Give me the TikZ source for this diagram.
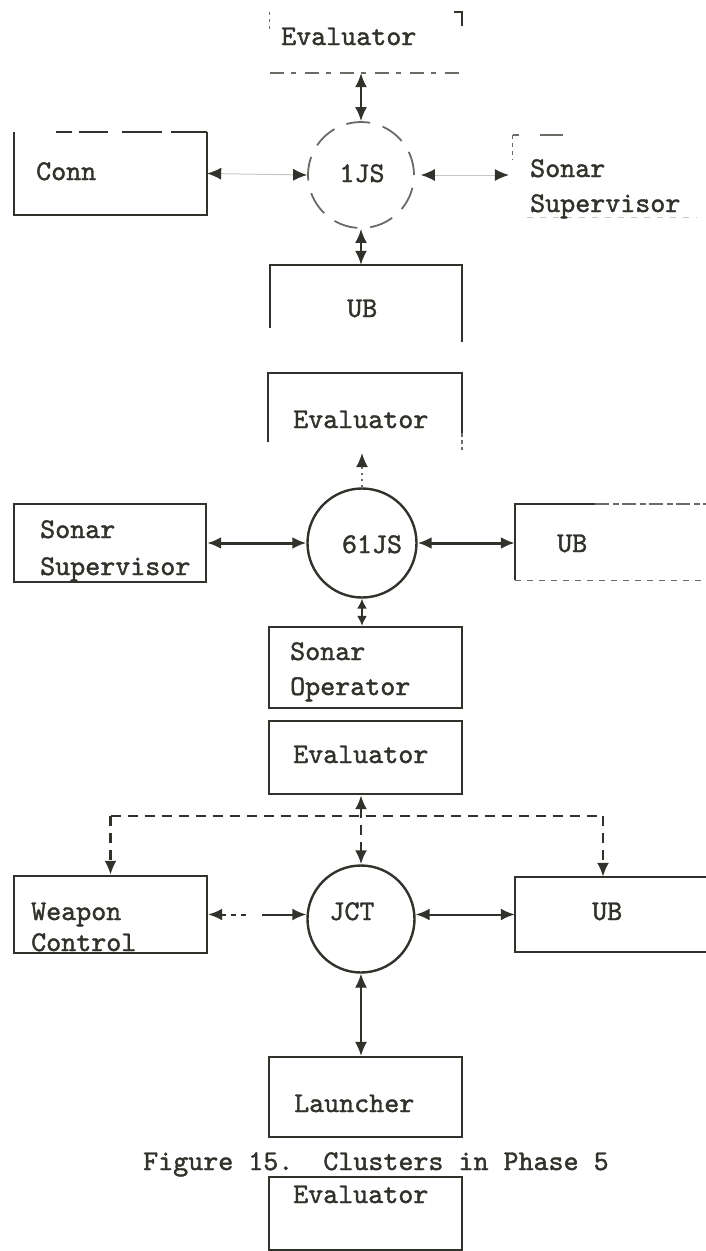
\documentclass[tikz,border=0pt]{standalone}
\usepackage{fontspec}
\setmonofont{lmmono10-regular.otf}[FakeBold=1.4]
\usetikzlibrary{arrows.meta}
\definecolor{ink}{RGB}{48,50,44}
\definecolor{mid}{RGB}{105,107,100}
\definecolor{pale}{RGB}{200,200,195}
\tikzset{
  >={Latex[length=14pt,width=12pt,color=ink]},
  lbl/.style={font=\ttfamily\fontsize{28.6}{35}\selectfont, text=ink, inner sep=0pt, anchor=base west},
  clbl/.style={lbl, anchor=base},
  boxframe/.style={rectangle, draw=ink, line width=2.4pt, inner sep=0pt},
  ghost/.style={rectangle, inner sep=0pt},
  hubnode/.style={circle, draw=ink, line width=2.4pt, inner sep=0pt},
  stroke/.style={draw=ink, line width=2.4pt},
  faintstroke/.style={draw=mid, line width=1.6pt},
  link/.style={draw=ink, line width=2pt, <->},
  shortlink/.style={draw=ink, line width=1.6pt, {Latex[length=10pt,width=10pt,color=ink]}-{Latex[length=10pt,width=10pt,color=ink]}},
  ghostlink/.style={draw=pale, line width=1pt, <->},
  dashline/.style={draw=ink, line width=2.4pt, dash pattern=on 10pt off 7pt},
}
\begin{document}
\begin{tikzpicture}[x=1pt,y=-1pt]
\useasboundingbox[fill=white] (0,0) rectangle (706,1251);

% ---------- top cluster ----------
\node[ghost, minimum width=192pt, minimum height=61pt] (ev1) at (366,42.5) {};
\node[ghost, minimum width=193pt, minimum height=83pt] (conn) at (110.5,173.5) {};
\node[hubnode, minimum size=106pt, draw=mid, line width=1.8pt, dash pattern=on 24pt off 13pt] (js1) at (361,175) {};
\node[ghost, minimum width=232pt, minimum height=82pt] (ss1) at (629,176) {};
\node[ghost, minimum width=192pt, minimum height=77pt] (ub1) at (366,303.5) {};

% ---------- middle cluster ----------
\node[ghost, minimum width=194pt, minimum height=80pt] (ev2) at (365,413) {};
\node[hubnode, minimum size=109pt] (js61) at (362,543) {};
\node[boxframe, minimum width=192pt, minimum height=78pt] (ss2) at (110,543) {};
\node[ghost, minimum width=230pt, minimum height=76pt] (ub2) at (630,542) {};
\node[boxframe, minimum width=193pt, minimum height=81pt] (so) at (365.5,667.5) {};

% ---------- bottom cluster ----------
\node[boxframe, minimum width=193pt, minimum height=73pt] (ev3) at (365.5,757.5) {};
\node[boxframe, minimum width=193pt, minimum height=77pt] (wc) at (110.5,914.5) {};
\node[hubnode, minimum size=107pt] (jct) at (361,919) {};
\node[ghost, minimum width=230pt, minimum height=75pt] (ub3) at (630,914.5) {};
\node[boxframe, minimum width=193pt, minimum height=80pt] (la) at (365.5,1097) {};
\node[boxframe, minimum width=193pt, minimum height=73pt] (ev4) at (365.5,1213.5) {};

% ---------- partial outlines ----------
% Evaluator (top)
\draw[faintstroke, line width=1.2pt, dash pattern=on 3pt off 4pt] (ev1.north west) -- ++(0,18);
\draw[stroke] ([xshift=-8pt]ev1.north east) -- (ev1.north east) -- ++(0,14);
\draw[faintstroke, dash pattern=on 14pt off 7pt on 5pt off 9pt] (ev1.south west) -- (ev1.south east);
% Conn
\draw[stroke] (conn.north east) -- (conn.south east) -- (conn.south west) -- (conn.north west);
\draw[stroke, dash pattern=on 16pt off 7pt on 29pt off 14pt on 40pt off 9pt on 40pt] ([xshift=42pt]conn.north west) -- (conn.north east);
% Sonar Supervisor (top right)
\draw[faintstroke, line width=1.3pt, dash pattern=on 4pt off 4pt] (ss1.north west) -- ++(0,25);
\draw[faintstroke] (ss1.north west) -- ++(6,0);
\draw[faintstroke] ([xshift=27pt]ss1.north west) -- ++(23,0);
\draw[draw=pale, line width=1.3pt, dash pattern=on 6pt off 7pt] ([xshift=14pt]ss1.south west) -- ++(170,0);
% UB (top)
\draw[stroke] ([yshift=-63pt]ub1.north west) -- (ub1.north west) -- (ub1.north east) -- (ub1.south east);
% Evaluator (middle)
\draw[stroke] ([yshift=-69pt]ev2.north west) -- (ev2.north west) -- (ev2.north east) -- ([yshift=-60pt]ev2.north east);
\draw[faintstroke, dash pattern=on 4pt off 3pt] ([yshift=-60pt]ev2.north east) -- ([yshift=-77pt]ev2.north east);
% UB (middle)
\draw[stroke] (ub2.south west) -- (ub2.north west) -- ++(80,0);
\draw[stroke, draw=mid, dash pattern=on 14pt off 4pt on 6pt off 3pt] ([xshift=80pt]ub2.north west) -- (ub2.north east);
\draw[draw=mid, line width=1.3pt, dash pattern=on 6pt off 6pt] (ub2.south west) -- (ub2.south east);
% UB (bottom)
\draw[stroke] (ub3.north east) -- (ub3.north west) -- (ub3.south west) -- (ub3.south east);

% ---------- texts ----------
\node[lbl] (tev1) at (281,45) {Evaluator};
\node[lbl] (tconn) at (36,180) {Conn};
\node[clbl] (tjs1) at (362,182) {1JS};
\node[lbl] (tss1a) at (530,177) {Sonar};
\node[lbl] (tss1b) at (530,212) {Supervisor};
\node[lbl] (tub1) at (347,317) {UB};
\node[lbl] (tev2) at (293,428) {Evaluator};
\node[clbl] (tjs61) at (372,553) {61JS};
\node[lbl] (tss2a) at (40,538) {Sonar};
\node[lbl] (tss2b) at (40,575) {Supervisor};
\node[lbl] (tub2) at (557,552) {UB};
\node[lbl] (tso1) at (290,660) {Sonar};
\node[lbl] (tso2) at (290,695) {Operator};
\node[lbl] (tev3) at (293,763) {Evaluator};
\node[lbl] (twc1) at (31,920) {Weapon};
\node[lbl] (twc2) at (31,951) {Control};
\node[clbl] (tjct) at (352,920) {JCT};
\node[lbl] (tub3) at (592,920) {UB};
\node[lbl] (tla) at (294,1112) {Launcher};
\node[lbl] (cap) at (143,1170) {Figure 15.\ \ Clusters in Phase 5};
\node[lbl] (tev4) at (293,1203) {Evaluator};

% ---------- connectors ----------
% top cluster
\draw[link] (js1.north |- ev1.south) -- (js1.north);
\draw[ghostlink] (conn.east) -- (js1.west);
\draw[ghostlink, shorten <=6pt, shorten >=4pt] (js1.east) -- (js1.east -| ss1.west);
\draw[link] (js1.south) -- (js1.south |- ub1.north);
% middle cluster
\draw[draw=mid, line width=1.2pt, dash pattern=on 2pt off 4pt, ->] (js61.north) -- (js61.north |- ev2.south);
\draw[link, line width=3pt] (ss2.east) -- (js61.west);
\draw[link, line width=3pt] (js61.east) -- (js61.east -| ub2.west);
\draw[shortlink] (js61.south) -- (js61.south |- so.north);
% bottom cluster
\coordinate (fork) at (361,816);
\coordinate (forkL) at (wc.north |- fork);
\coordinate (forkR) at (603,816);
\draw[dashline, <->] (jct.north |- ev3.south) -- (jct.north);
\draw[dashline] (forkL) -- (forkR);
\draw[dashline, ->] (forkL) -- (wc.north);
\draw[dashline, ->] (forkR) -- (forkR |- ub3.north);
\draw[link, dash pattern=on 5pt off 5pt on 5pt off 5pt on 5pt off 16pt on 200pt] (wc.east) -- (wc.east -| jct.west);
\draw[link] (ub3.west -| jct.east) -- (ub3.west);
\draw[link, line width=1.4pt] (jct.south) -- (jct.south |- la.north);
\end{tikzpicture}
\end{document}
